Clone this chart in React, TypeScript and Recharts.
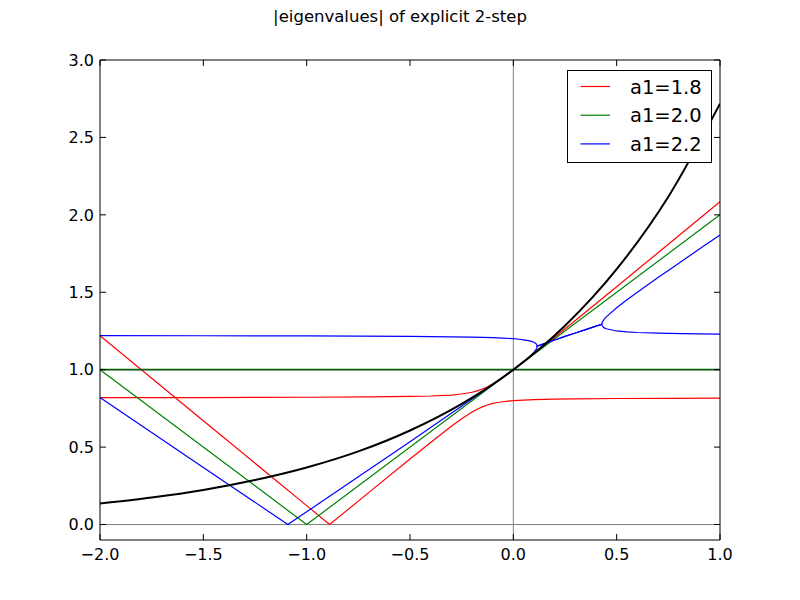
import { Legend, Line, LineChart, XAxis, YAxis } from "recharts";

// |eigenvalues| of an explicit 2-step method, one colour per a1.
// Each a1 has two root branches.

const X_TICKS = [-2, -1.5, -1, -0.5, 0, 0.5, 1];
const Y_TICKS = [0, 0.5, 1, 1.5, 2, 2.5, 3];

// a1 = 1.8
const RED_UPPER: [number, number][] = [
  [-2, 0.82], [-1.5, 0.82], [-1, 0.822], [-0.7, 0.824], [-0.5, 0.827], [-0.4, 0.83],
  [-0.3, 0.836], [-0.25, 0.843], [-0.2, 0.854], [-0.175, 0.863], [-0.15, 0.875],
  [-0.125, 0.89], [-0.1, 0.908], [-0.075, 0.929], [-0.05, 0.952], [-0.025, 0.975],
  [0, 1.0], [0.1, 1.103], [0.2, 1.21], [0.3, 1.318], [0.5, 1.536], [0.75, 1.81], [1, 2.084],
];
const RED_LOWER: [number, number][] = [
  [-2, 1.22], [-1.5, 0.67], [-1, 0.122], [-0.889, 0.0], [-0.7, 0.206], [-0.5, 0.423],
  [-0.4, 0.53], [-0.3, 0.634], [-0.25, 0.683], [-0.2, 0.726], [-0.175, 0.745],
  [-0.15, 0.76], [-0.125, 0.772], [-0.1, 0.782], [-0.075, 0.788], [-0.05, 0.793],
  [-0.025, 0.797], [0, 0.8], [0.1, 0.807], [0.2, 0.81], [0.3, 0.812], [0.5, 0.814],
  [0.75, 0.815], [1, 0.816],
];

// a1 = 2.0
const GREEN_FLAT: [number, number][] = [[-2, 1.0], [1, 1.0]];
const GREEN_V: [number, number][] = [[-2, 1.0], [-1, 0.0], [1, 2.0]];

// a1 = 2.2
const BLUE_UPPER: [number, number][] = [
  [-2, 1.22], [-1.5, 1.219], [-1, 1.218], [-0.75, 1.217], [-0.5, 1.215], [-0.3, 1.212],
  [-0.2, 1.21], [-0.1, 1.207], [-0.05, 1.204], [0, 1.2], [0.02, 1.198], [0.05, 1.193],
  [0.08, 1.186], [0.1, 1.177], [0.11, 1.168], [0.113, 1.163], [0.115, 1.152],
  [0.15, 1.168], [0.2, 1.192], [0.25, 1.215], [0.3, 1.237], [0.35, 1.259], [0.4, 1.281],
  [0.428, 1.293], [0.43, 1.306], [0.44, 1.326], [0.45, 1.341], [0.5, 1.4], [0.55, 1.451],
  [0.6, 1.5], [0.7, 1.595], [0.75, 1.641], [0.9, 1.779], [1, 1.87],
];
const BLUE_LOWER: [number, number][] = [
  [-2, 0.82], [-1.5, 0.369], [-1.091, 0.0], [-1, 0.082], [-0.75, 0.308], [-0.5, 0.535],
  [-0.3, 0.718], [-0.2, 0.81], [-0.1, 0.903], [-0.05, 0.951], [0, 1.0], [0.02, 1.02],
  [0.05, 1.052], [0.08, 1.086], [0.1, 1.113], [0.11, 1.131], [0.113, 1.138],
  [0.115, 1.152], [0.15, 1.168], [0.2, 1.192], [0.25, 1.215], [0.3, 1.237],
  [0.35, 1.259], [0.4, 1.281], [0.428, 1.293], [0.43, 1.282], [0.44, 1.27],
  [0.45, 1.264], [0.5, 1.25], [0.55, 1.244], [0.6, 1.24], [0.7, 1.236], [0.75, 1.234],
  [0.9, 1.231], [1, 1.23],
];

// exact solution exp(z), black
const BLACK_EXP: [number, number][] = [
  [-2, 0.135], [-1.75, 0.174], [-1.5, 0.223], [-1.25, 0.287], [-1, 0.368], [-0.75, 0.472],
  [-0.5, 0.607], [-0.25, 0.779], [0, 1.0], [0.25, 1.284], [0.5, 1.649], [0.75, 2.117],
  [1, 2.718],
];

// grey guide lines
const GREY_V0: [number, number][] = [[0, -0.1], [0, 3.0]];
const GREY_H0: [number, number][] = [[-2, 0.0], [1, 0.0]];
const GREY_H1: [number, number][] = [[-2, 1.0], [1, 1.0]];

const LEGEND_LABELS = ["a1=1.8", "a1=2.0", "a1=2.2"];

const RED = "#ff0000";
const GREEN = "#008000";
const DARK_GREEN = "#0b5e0b";
const BLUE = "#0000ff";
const GREY = "#808080";
const LEGEND_COLORS = [RED, GREEN, BLUE];

const FONT = "DejaVu Sans";
const TICK_LEN = 6;

const rows = (pts: [number, number][]) => pts.map(([x, y]) => ({ x, y }));
const fmt = (v: number) => (v < 0 ? "\u2212" : "") + Math.abs(v).toFixed(1);

function BottomTick({ x, y, payload }: any) {
  return (
    <g>
      <line x1={x} y1={y} x2={x} y2={y - TICK_LEN} stroke="#000" strokeWidth={1} />
      <text x={x} y={y + 20} textAnchor="middle" fontFamily={FONT} fontSize={16} fill="#000">
        {fmt(payload.value)}
      </text>
    </g>
  );
}

function TopTick({ x, y }: any) {
  return <line x1={x} y1={y} x2={x} y2={y + TICK_LEN} stroke="#000" strokeWidth={1} />;
}

function LeftTick({ x, y, payload }: any) {
  return (
    <g>
      <line x1={x} y1={y} x2={x + TICK_LEN} y2={y} stroke="#000" strokeWidth={1} />
      <text x={x - 6} y={y} dy="0.36em" textAnchor="end" fontFamily={FONT} fontSize={16} fill="#000">
        {fmt(payload.value)}
      </text>
    </g>
  );
}

function RightTick({ x, y }: any) {
  return <line x1={x} y1={y} x2={x - TICK_LEN} y2={y} stroke="#000" strokeWidth={1} />;
}

function LegendBox() {
  return (
    <svg width={145} height={93} style={{ display: "block" }}>
      <rect x={0.5} y={0.5} width={144} height={92} fill="#fff" stroke="#000" strokeWidth={1} />
      {LEGEND_LABELS.map((label, i) => {
        const cy = 16.5 + i * 28.7;
        return (
          <g key={label}>
            <line x1={13.5} y1={cy} x2={43} y2={cy} stroke={LEGEND_COLORS[i]} strokeWidth={1.2} />
            <text x={63} y={cy} dy="0.36em" fontFamily={FONT} fontSize={19.5} fill="#000">
              {label}
            </text>
          </g>
        );
      })}
    </svg>
  );
}

export default function App() {
  const line = (key: string, pts: [number, number][], color: string, width = 1.2, curve: any = "linear") => (
    <Line
      key={key}
      data={rows(pts)}
      dataKey="y"
      type={curve}
      stroke={color}
      strokeWidth={width}
      dot={false}
      activeDot={false}
      legendType="none"
      isAnimationActive={false}
    />
  );

  const frame = { stroke: "#000", strokeWidth: 1 };

  return (
    <div style={{ position: "absolute", left: 0, top: 0, width: 800, height: 600, background: "#fff" }}>
      <div
        style={{
          position: "absolute",
          left: 0,
          top: 9,
          width: 800,
          textAlign: "center",
          fontFamily: FONT,
          fontSize: 16.5,
          lineHeight: "16.5px",
          color: "#000",
        }}
      >
        |eigenvalues| of explicit 2-step
      </div>
      <LineChart width={800} height={600} margin={{ top: 59, right: 79, bottom: 59, left: 99 }}>
        <XAxis
          type="number"
          dataKey="x"
          domain={[-2, 1]}
          ticks={X_TICKS}
          allowDataOverflow
          height={1}
          tickSize={0}
          tickMargin={0}
          tickLine={false}
          axisLine={frame}
          tick={<BottomTick />}
          interval={0}
        />
        <XAxis
          xAxisId="top"
          orientation="top"
          type="number"
          dataKey="x"
          domain={[-2, 1]}
          ticks={X_TICKS}
          allowDataOverflow
          height={1}
          tickSize={0}
          tickMargin={0}
          tickLine={false}
          axisLine={frame}
          tick={<TopTick />}
          interval={0}
        />
        <YAxis
          type="number"
          domain={[-0.1, 3]}
          ticks={Y_TICKS}
          allowDataOverflow
          width={1}
          tickSize={0}
          tickMargin={0}
          tickLine={false}
          axisLine={frame}
          tick={<LeftTick />}
          interval={0}
        />
        <YAxis
          yAxisId="right"
          orientation="right"
          type="number"
          domain={[-0.1, 3]}
          ticks={Y_TICKS}
          allowDataOverflow
          width={1}
          tickSize={0}
          tickMargin={0}
          tickLine={false}
          axisLine={frame}
          tick={<RightTick />}
          interval={0}
        />
        {line("g0", GREY_V0, GREY, 1)}
        {line("g1", GREY_H0, GREY, 1)}
        {line("g2", GREY_H1, GREY, 1)}
        {line("r1", RED_UPPER, RED)}
        {line("r2", RED_LOWER, RED)}
        {line("gr1", GREEN_V, GREEN)}
        {line("gr2", GREEN_FLAT, DARK_GREEN, 1.8)}
        {line("b1", BLUE_UPPER, BLUE)}
        {line("b2", BLUE_LOWER, BLUE)}
        {line("k", BLACK_EXP, "#000", 2, "monotone")}
        <Legend
          layout="vertical"
          align="center"
          verticalAlign="middle"
          wrapperStyle={{ left: 567, top: 70, width: 145, height: 93 }}
          content={() => <LegendBox />}
        />
      </LineChart>
    </div>
  );
}
